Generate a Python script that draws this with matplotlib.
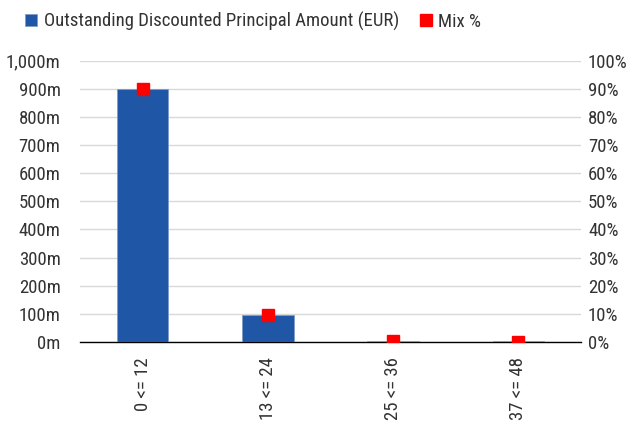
import matplotlib
matplotlib.use("Agg")
import matplotlib.pyplot as plt
from matplotlib.ticker import FuncFormatter
from matplotlib import font_manager

names = {f.name for f in font_manager.fontManager.ttflist}
fam = [n for n in ["Roboto Condensed", "Archivo Narrow", "Fira Sans Condensed", "Roboto"] if n in names][:1] + ["DejaVu Sans"]
plt.rcParams['font.family'] = fam

categories = ["0 <= 12", "13 <= 24", "25 <= 36", "37 <= 48"]
amount_m = [898, 97.5, 5, 2.5]
mix_pct = [89.7, 9.5, 0.4, 0.1]

TXT = "#333333"
FS = 13.5
fig = plt.figure(figsize=(6.41, 4.23), dpi=100)
ax = fig.add_axes([80/641, 1-342/423, 501/641, (342-60.5)/423])
ax2 = ax.twinx()

x = list(range(len(categories)))
bars = ax.bar(x, amount_m, width=0.41, color="#1F56A5", edgecolor="#7F9CCB", linewidth=0.6, zorder=3)
ax.set_ylim(0, 1000)
ax.set_yticks(range(0, 1001, 100))
ax.yaxis.set_major_formatter(FuncFormatter(lambda v, p: f"{int(v):,}m"))
ax.set_xlim(-0.5, 3.5)
ax.set_xticks(x)
ax.set_xticklabels(categories, rotation=90, fontsize=FS, color=TXT)
ax.grid(axis='y', color="#d9d9d9", linewidth=1, zorder=0)
ax.set_axisbelow(True)
for s in ["top", "left", "right"]:
    ax.spines[s].set_visible(False)
ax.spines["bottom"].set_color("black")
ax.spines["bottom"].set_linewidth(1)
ax.tick_params(axis='both', length=0, labelsize=FS, labelcolor=TXT)
ax.tick_params(axis='x', pad=11)
ax.tick_params(axis='y', pad=14)

pts = ax2.plot(x, mix_pct, linestyle="none", marker="s", markersize=8.6, color="#FF0000", zorder=5)
ax2.set_ylim(0, 100)
ax2.set_yticks(range(0, 101, 10))
ax2.yaxis.set_major_formatter(FuncFormatter(lambda v, p: f"{int(v)}%"))
for s in ["top", "left", "right", "bottom"]:
    ax2.spines[s].set_visible(False)
ax2.tick_params(axis='y', length=0, labelsize=FS, labelcolor=TXT, pad=5)

handles = [bars, pts[0]]
labels = ["Outstanding Discounted Principal Amount (EUR)", "Mix %"]
fig.legend(handles, labels, loc="upper left", bbox_to_anchor=(8/641, 1+5/423), ncol=2, frameon=False,
           fontsize=FS, handlelength=0.65, handleheight=0.65, handletextpad=0.35, columnspacing=1.1,
           labelcolor=TXT)

fig.savefig("out.png", dpi=100)
